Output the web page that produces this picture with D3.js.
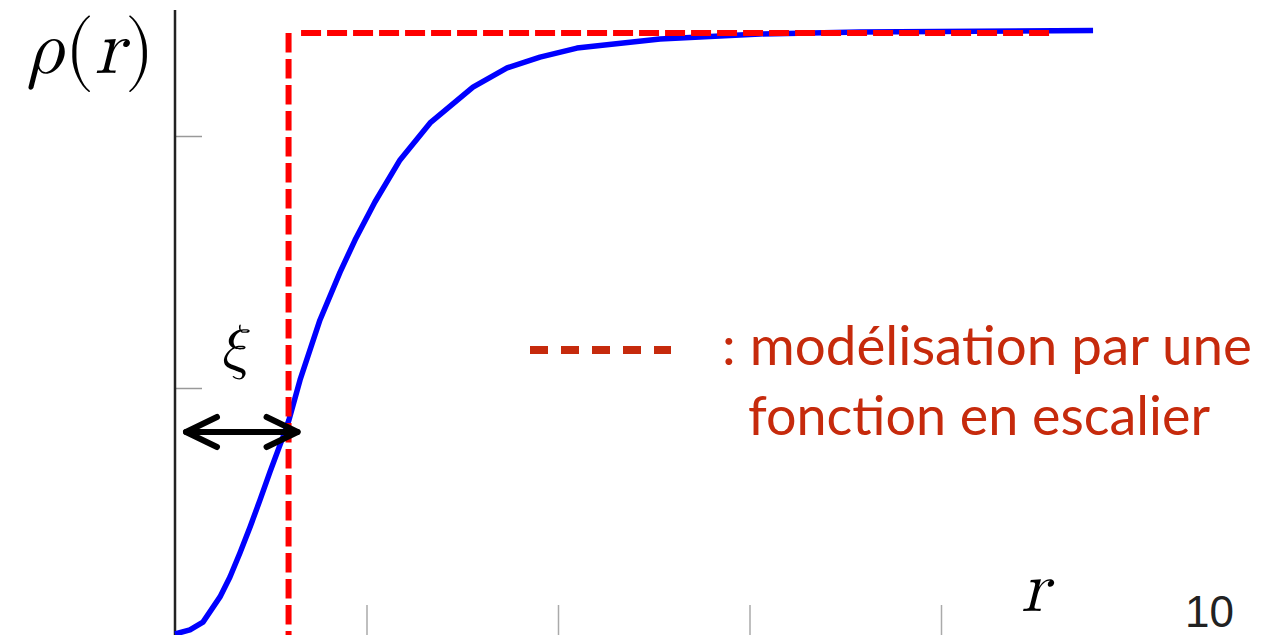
<!DOCTYPE html>
<html>
<head>
<meta charset="utf-8">
<script src="https://cdn.jsdelivr.net/npm/d3@7/dist/d3.min.js"></script>
<style>
  html, body { margin: 0; padding: 0; background: #fff; }
  svg { display: block; }
  .math { font-family: "Latin Modern Math", "CMU Serif", "Liberation Serif", Tinos, "Nimbus Roman", "DejaVu Serif", FreeSerif, Times, serif; }
  .legend { font-family: Lato, "Open Sans", sans-serif; }
  .page { font-family: "Liberation Sans", Arial, sans-serif; }
</style>
</head>
<body>
<svg id="chart" width="1269" height="635"></svg>
<script>
// Density profile rho(r): smooth rise to the bulk value
const profileR   = [0, 0.078, 0.146, 0.235, 0.287, 0.339, 0.392, 0.444, 0.496, 0.564, 0.595,
                    0.653, 0.757, 0.862, 0.940, 1.044, 1.175, 1.332, 1.556, 1.734,
                    1.906, 2.099, 2.533, 3.055, 3.577, 4.794];
const profileRho = [0.024, 0.040, 0.071, 0.171, 0.250, 0.345, 0.448, 0.556, 0.667, 0.806, 0.873,
                    1.032, 1.270, 1.460, 1.587, 1.738, 1.905, 2.052, 2.194, 2.270,
                    2.313, 2.349, 2.385, 2.405, 2.413, 2.419];

// Step-function model: jumps at r = xi to the bulk level
const stepXi    = 0.593;
const stepLevel = 2.409;
const stepEnd   = 4.574;

const xTicks = [1, 2, 3, 4];
const yTicks = [1, 2];

const legendLines = [": modélisation par une", "fonction en escalier"];
const pageNumber = "10";

const svg = d3.select("#chart");

const x = d3.scaleLinear().domain([0, 1]).range([175, 366.5]);
const y = d3.scaleLinear().domain([0, 1]).range([640, 388]);

// ticks (no labels), pointing into the plot
svg.append("g")
  .attr("transform", `translate(0,${y(0)})`)
  .call(d3.axisBottom(x).tickValues(xTicks).tickSize(-35).tickFormat(""))
  .call(g => g.select(".domain").remove())
  .call(g => g.selectAll(".tick line").attr("stroke", "#aaa").attr("stroke-width", 1.5));

svg.append("g")
  .attr("transform", `translate(${x(0)},0)`)
  .call(d3.axisLeft(y).tickValues(yTicks).tickSize(-27).tickFormat(""))
  .call(g => g.select(".domain").remove())
  .call(g => g.selectAll(".tick line").attr("stroke", "#999").attr("stroke-width", 1.5));

// vertical axis line
svg.append("line")
  .attr("x1", x(0)).attr("x2", x(0))
  .attr("y1", 10).attr("y2", 640)
  .attr("stroke", "#222").attr("stroke-width", 2.5);

// smooth profile
const line = d3.line().x((d, i) => x(profileR[i])).y((d, i) => y(profileRho[i]));
svg.append("path")
  .attr("d", line(profileR))
  .attr("fill", "none")
  .attr("stroke", "#0000ff")
  .attr("stroke-width", 5.5)
  .attr("stroke-linejoin", "round");

// step model: vertical part drawn downward from the corner, horizontal part to the right
const red = "#ff0000";
svg.append("path")
  .attr("d", d3.line()([[x(stepXi), y(stepLevel)], [x(stepXi), y(0)]]))
  .attr("fill", "none").attr("stroke", red).attr("stroke-width", 6)
  .attr("stroke-dasharray", "19.5 6.5");
svg.append("path")
  .attr("d", d3.line()([[x(stepXi) + 12.5, y(stepLevel)], [x(stepEnd), y(stepLevel)]]))
  .attr("fill", "none").attr("stroke", red).attr("stroke-width", 6)
  .attr("stroke-dasharray", "20 6");

// xi: double-headed arrow from the axis to the step
const ay = 432;
const ax0 = x(0) + 11, ax1 = x(stepXi) + 9;
const arrow = svg.append("g")
  .attr("stroke", "#000").attr("stroke-width", 6)
  .attr("stroke-linecap", "round").attr("stroke-linejoin", "round").attr("fill", "none");
arrow.append("line").attr("x1", ax0).attr("x2", ax1).attr("y1", ay).attr("y2", ay);
arrow.append("path").attr("d", `M${ax0 + 31},${ay - 15} L${ax0},${ay} L${ax0 + 31},${ay + 15}`);
arrow.append("path").attr("d", `M${ax1 - 31},${ay - 15} L${ax1},${ay} L${ax1 - 31},${ay + 15}`);

svg.append("text")
  .attr("class", "math")
  .attr("x", 234).attr("y", 367)
  .attr("text-anchor", "middle")
  .attr("font-style", "italic")
  .attr("font-size", 61)
  .text("ξ");

// axis labels
const rhoLabel = svg.append("text")
  .attr("class", "math")
  .attr("x", 27).attr("y", 73)
  .attr("font-size", 77)
  .attr("fill", "#000");
rhoLabel.append("tspan").attr("font-style", "italic").text("ρ");
rhoLabel.append("tspan").text("(");
rhoLabel.append("tspan").attr("font-style", "italic").text("r");
rhoLabel.append("tspan").text(")");

svg.append("text")
  .attr("class", "math")
  .attr("x", 1021).attr("y", 611)
  .attr("font-style", "italic")
  .attr("font-size", 72)
  .text("r");

// legend
const legendColor = "#c62a0c";
svg.append("line")
  .attr("x1", 530).attr("x2", 671)
  .attr("y1", 350).attr("y2", 350)
  .attr("stroke", legendColor).attr("stroke-width", 8)
  .attr("stroke-dasharray", "18 13");

svg.selectAll("text.legend")
  .data(legendLines)
  .join("text")
  .attr("class", "legend")
  .attr("x", (d, i) => i === 0 ? 722 : 748)
  .attr("y", (d, i) => 365 + i * 70)
  .attr("font-size", 55)
  .attr("textLength", (d, i) => i === 0 ? 530 : 462)
  .attr("lengthAdjust", "spacingAndGlyphs")
  .attr("fill", legendColor)
  .text(d => d);

svg.append("text")
  .attr("class", "page")
  .attr("x", 1185).attr("y", 627)
  .attr("font-size", 44)
  .attr("fill", "#222")
  .text(pageNumber);
</script>
</body>
</html>
